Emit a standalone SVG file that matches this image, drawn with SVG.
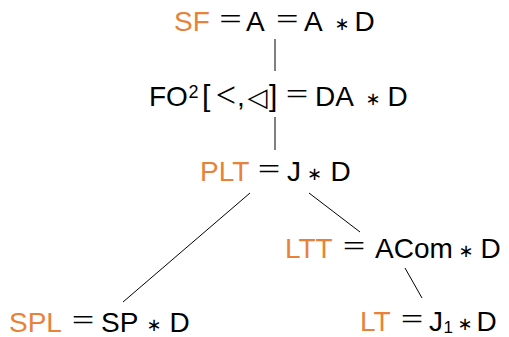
<svg xmlns="http://www.w3.org/2000/svg" width="509" height="337" viewBox="0 0 509 337">
  <style>
    text { font-family: "Liberation Sans", Arial, sans-serif; font-size: 28px; fill: #000; }
    .o { fill: #E8823A; }
    .eq { font-family: "Liberation Serif", serif; font-size: 30px; }
    .op { font-family: "DejaVu Sans", sans-serif; font-size: 18px; text-anchor: middle; }
    .rel { font-family: "Liberation Serif", serif; font-size: 36px; text-anchor: middle; }
    .tri { font-family: "DejaVu Sans", sans-serif; font-size: 26px; text-anchor: middle; }
    .sm { font-size: 18px; }
    .sub { font-size: 17px; }
    .br { font-size: 30px; }
    .edge { stroke: #000; stroke-width: 1; fill: none; }
  </style>
  <rect width="509" height="337" fill="#fff"/>
  <g id="connectors">
    <line class="edge" x1="275" y1="39" x2="275" y2="71"/>
    <line class="edge" x1="275" y1="117" x2="275" y2="150"/>
    <line class="edge" x1="250" y1="193" x2="123" y2="302"/>
    <line class="edge" x1="309" y1="193" x2="360" y2="232"/>
    <line class="edge" x1="405" y1="268" x2="422" y2="298"/>
  </g>
  <g id="node-sf">
    <text class="o" x="174" y="31">SF</text>
    <text class="eq" x="219.3" y="29" textLength="22.5" lengthAdjust="spacingAndGlyphs">=</text>
    <text x="246" y="31">A</text>
    <text class="eq" x="276" y="29" textLength="22.5" lengthAdjust="spacingAndGlyphs">=</text>
    <text x="304" y="31">A</text>
    <text class="op" x="342" y="30">∗</text>
    <text x="354.5" y="31">D</text>
  </g>
  <g id="node-fo">
    <text x="149" y="106">FO</text>
    <text class="sm" x="188.5" y="98">2</text>
    <text class="br" x="202" y="106">[</text>
    <text class="rel" x="226" y="107">&lt;</text>
    <text x="237" y="106">,</text>
    <text class="tri" x="257.5" y="106">◁</text>
    <text class="br" x="269" y="106">]</text>
    <text class="eq" x="285.8" y="104" textLength="22.5" lengthAdjust="spacingAndGlyphs">=</text>
    <text x="315" y="106">DA</text>
    <text class="op" x="373" y="105">∗</text>
    <text x="387.5" y="106">D</text>
  </g>
  <g id="node-plt">
    <text class="o" x="200" y="181">PLT</text>
    <text class="eq" x="257.8" y="179" textLength="22.5" lengthAdjust="spacingAndGlyphs">=</text>
    <text x="287" y="181">J</text>
    <text class="op" x="314.5" y="180">∗</text>
    <text x="330.5" y="181">D</text>
  </g>
  <g id="node-ltt">
    <text class="o" x="285" y="258">LTT</text>
    <text class="eq" x="342.8" y="256" textLength="22.5" lengthAdjust="spacingAndGlyphs">=</text>
    <text x="375" y="258">ACom</text>
    <text class="op" x="466" y="257">∗</text>
    <text x="480.5" y="258">D</text>
  </g>
  <g id="node-spl">
    <text class="o" x="9" y="332">SPL</text>
    <text class="eq" x="71.8" y="330" textLength="22.5" lengthAdjust="spacingAndGlyphs">=</text>
    <text x="101" y="332">SP</text>
    <text class="op" x="154" y="331">∗</text>
    <text x="169.5" y="332">D</text>
  </g>
  <g id="node-lt">
    <text class="o" x="360" y="331">LT</text>
    <text class="eq" x="400.8" y="329" textLength="22.5" lengthAdjust="spacingAndGlyphs">=</text>
    <text x="429" y="331">J</text>
    <text class="sub" x="443.5" y="333">1</text>
    <text class="op" x="465" y="330">∗</text>
    <text x="476.5" y="331">D</text>
  </g>
</svg>
